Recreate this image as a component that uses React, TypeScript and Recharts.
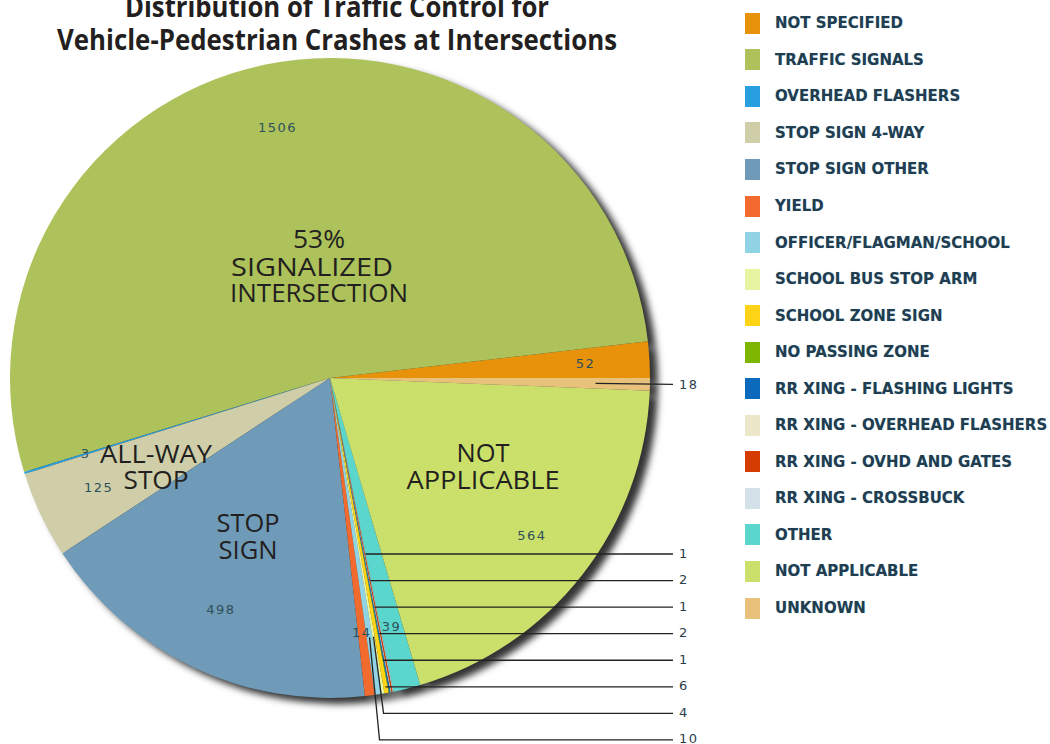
import React from "react";
import { PieChart, Pie, Cell, Legend } from "recharts";

const categories = [
  "NOT SPECIFIED",
  "TRAFFIC SIGNALS",
  "OVERHEAD FLASHERS",
  "STOP SIGN 4-WAY",
  "STOP SIGN OTHER",
  "YIELD",
  "OFFICER/FLAGMAN/SCHOOL",
  "SCHOOL BUS STOP ARM",
  "SCHOOL ZONE SIGN",
  "NO PASSING ZONE",
  "RR XING - FLASHING LIGHTS",
  "RR XING - OVERHEAD FLASHERS",
  "RR XING - OVHD AND GATES",
  "RR XING - CROSSBUCK",
  "OTHER",
  "NOT APPLICABLE",
  "UNKNOWN",
];

const crashes = [52, 1506, 3, 125, 498, 14, 10, 4, 6, 1, 2, 1, 2, 1, 39, 564, 18];

const colors = [
  "#e8910b",
  "#adc25a",
  "#28a0df",
  "#cfcea8",
  "#6f9bb8",
  "#f26a2e",
  "#8fd3e5",
  "#e7f5a2",
  "#ffd416",
  "#7db600",
  "#0b6abb",
  "#ece7c9",
  "#d43c00",
  "#d3e0e8",
  "#5bd6cc",
  "#cbe06a",
  "#e8c27b",
];

// small slices labelled outside, listed top to bottom in the label column
const leaderOrder = [
  "RR XING - CROSSBUCK",
  "RR XING - OVHD AND GATES",
  "RR XING - OVERHEAD FLASHERS",
  "RR XING - FLASHING LIGHTS",
  "NO PASSING ZONE",
  "SCHOOL ZONE SIGN",
  "SCHOOL BUS STOP ARM",
  "OFFICER/FLAGMAN/SCHOOL",
];

const data = categories.map((name, i) => ({ name, value: crashes[i] }));

const RAD = Math.PI / 180;
const labelFont = { fontFamily: "'DejaVu Sans', Verdana, sans-serif", fontSize: 13, letterSpacing: 1.5 };

function renderLabel(props: any) {
  const { cx, cy, midAngle, outerRadius, value, index } = props;
  const name = categories[index];
  const cos = Math.cos(-midAngle * RAD);
  const sin = Math.sin(-midAngle * RAD);
  const xEnd = cx + outerRadius + 23;
  const slot = leaderOrder.indexOf(name);

  if (name === "UNKNOWN") {
    const px = cx + outerRadius * 0.83 * cos;
    const py = cy + outerRadius * 0.83 * sin;
    return (
      <g key={`l-${index}`}>
        <path d={`M${px},${py}L${xEnd},${py + 1}`} stroke="#222" strokeWidth={1.3} fill="none" />
        <text x={xEnd + 6} y={py + 1} dominantBaseline="central" fill="#2d3e4a" {...labelFont}>
          {value}
        </text>
      </g>
    );
  }

  if (slot >= 0) {
    const y = cy + outerRadius * 0.55 + slot * outerRadius * 0.083;
    const r = (y - cy) / sin;
    let d: string;
    if (r <= outerRadius) {
      d = `M${cx + r * cos},${y}L${xEnd},${y}`;
    } else {
      const px = cx + outerRadius * 0.82 * cos;
      const py = cy + outerRadius * 0.82 * sin;
      d = `M${px},${py}L${px + 10},${y}L${xEnd},${y}`;
    }
    return (
      <g key={`l-${index}`}>
        <path d={d} stroke="#222" strokeWidth={1.3} fill="none" />
        <text x={xEnd + 6} y={y - 1} dominantBaseline="central" fill="#2d3e4a" {...labelFont}>
          {value}
        </text>
      </g>
    );
  }

  const x = cx + outerRadius * 0.8 * cos;
  const y = cy + outerRadius * 0.8 * sin;
  return (
    <text key={`l-${index}`} x={x} y={y} textAnchor="middle" dominantBaseline="central" fill="#2e4f5a" {...labelFont}>
      {value}
    </text>
  );
}

function LegendList() {
  return (
    <div style={{ fontFamily: "'DejaVu Sans', Verdana, sans-serif", fontWeight: 700, fontSize: 15, color: "#213d50" }}>
      {categories.map((name, i) => (
        <div key={name} style={{ height: 36.56, display: "flex", alignItems: "center" }}>
          <span style={{ width: 15, height: 21, background: colors[i], display: "inline-block", marginRight: 15, flex: "none" }} />
          <span style={{ textShadow: "0 0 1px rgba(90,150,190,0.45)", whiteSpace: "nowrap" }}>{name}</span>
        </div>
      ))}
    </div>
  );
}

const bigText = { fontFamily: "'Open Sans', sans-serif", fontSize: 26, fill: "#231f20" };

export default function App() {
  return (
    <div style={{ position: "fixed", left: 0, top: 0, width: 1050, height: 744, background: "#fff", overflow: "hidden" }}>
      <style>{".pie-shadow{filter:blur(2.5px);transform:translate(4px,3px);}"}</style>
      <PieChart width={1050} height={744} margin={{ top: 0, right: 0, bottom: 0, left: 0 }}>
        <Pie
          className="pie-shadow"
          data={data}
          dataKey="value"
          nameKey="name"
          cx={330}
          cy={378}
          outerRadius={320}
          startAngle={0}
          endAngle={360}
          stroke="none"
          fill="rgba(0,0,0,0.8)"
          isAnimationActive={false}
          legendType="none"
        />
        <Pie
          data={data}
          dataKey="value"
          nameKey="name"
          cx={330}
          cy={378}
          outerRadius={320}
          startAngle={0}
          endAngle={360}
          stroke="none"
          label={renderLabel}
          labelLine={false}
          isAnimationActive={false}
        >
          {data.map((d, i) => (
            <Cell key={d.name} fill={colors[i]} />
          ))}
        </Pie>
        <Legend
          layout="vertical"
          align="right"
          verticalAlign="top"
          content={() => <LegendList />}
          wrapperStyle={{ left: 745, top: 5, width: 305, right: "auto" }}
        />
      </PieChart>
      <svg width={1050} height={744} style={{ position: "absolute", left: 0, top: 0, pointerEvents: "none" }}>
        <g style={{ fontFamily: "'Open Sans', sans-serif", fontWeight: 700, fontSize: 28 }} fill="#231f20" textAnchor="middle">
          <text x={337} y={17} textLength={424} lengthAdjust="spacingAndGlyphs">
            Distribution of Traffic Control for
          </text>
          <text x={337} y={50} textLength={560} lengthAdjust="spacingAndGlyphs">
            Vehicle-Pedestrian Crashes at Intersections
          </text>
        </g>
        <g textAnchor="middle" style={bigText as any}>
          <text x={319} y={248} textLength={52} lengthAdjust="spacingAndGlyphs">53%</text>
          <text x={312} y={276} textLength={162} lengthAdjust="spacingAndGlyphs">SIGNALIZED</text>
          <text x={319} y={302} textLength={178} lengthAdjust="spacingAndGlyphs">INTERSECTION</text>
          <text x={156} y={463} textLength={112} lengthAdjust="spacingAndGlyphs">ALL-WAY</text>
          <text x={156} y={489} textLength={65} lengthAdjust="spacingAndGlyphs">STOP</text>
          <text x={248} y={532} textLength={63} lengthAdjust="spacingAndGlyphs">STOP</text>
          <text x={248} y={559} textLength={59} lengthAdjust="spacingAndGlyphs">SIGN</text>
          <text x={483} y={462} textLength={53} lengthAdjust="spacingAndGlyphs">NOT</text>
          <text x={483} y={489} textLength={153} lengthAdjust="spacingAndGlyphs">APPLICABLE</text>
        </g>
      </svg>
    </div>
  );
}
